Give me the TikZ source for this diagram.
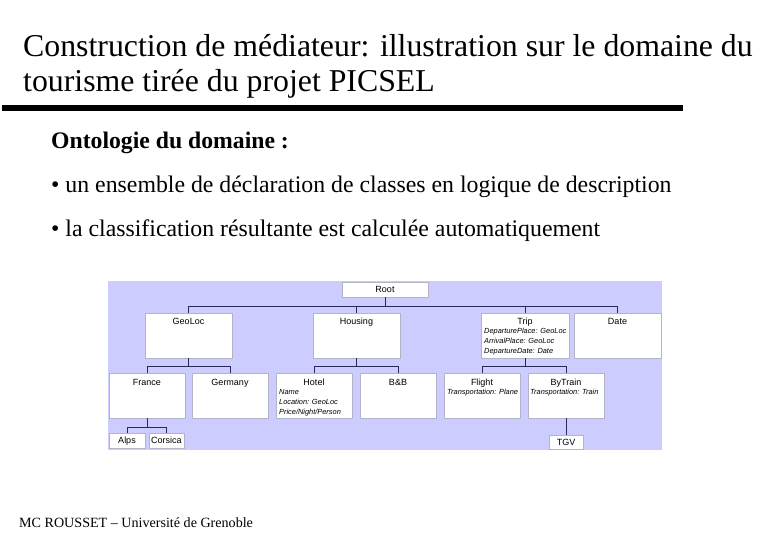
\documentclass[tikz,border=0pt]{standalone}
\usepackage{fontspec}
\setmainfont{Liberation Serif}
\newfontfamily\diafont{Liberation Sans}
\definecolor{panelbg}{RGB}{204,204,255}
\definecolor{linkc}{RGB}{40,40,90}
\definecolor{boxline}{RGB}{180,180,200}
\begin{document}
\begin{tikzpicture}[x=1pt,y=-1pt,
  cls/.style={draw=boxline,line width=0.4pt,fill=white,inner sep=0pt,rectangle},
  big/.style={cls,minimum width=87pt,minimum height=45pt},
  mid/.style={cls,minimum width=76pt,minimum height=45pt},
  small/.style={cls,minimum height=15pt},
  lbl/.style={anchor=base,inner sep=0pt,font=\diafont\fontsize{9}{10}\selectfont},
  attr/.style={anchor=base west,inner sep=0pt,font=\diafont\itshape\fontsize{7.4}{9}\selectfont},
  link/.style={draw=linkc,line width=0.9pt},
  titlet/.style={anchor=base west,inner sep=0pt,font=\fontsize{31.8}{36}\selectfont},
  bodyt/.style={anchor=base west,inner sep=0pt,font=\fontsize{23.8}{28}\selectfont}]
\useasboundingbox (0,0) rectangle (780,540);
% titles
\node[titlet] (t1) at (23,57) {Construction de médiateur: illustration sur le domaine du};
\node[titlet] (t2) at (23,92) {tourisme tirée du projet PICSEL};
\coordinate (barL) at (2,108);
\coordinate (barR) at (683,108);
\draw[line width=5.5pt] (barL) -- (barR);
\node[bodyt,font=\bfseries\fontsize{23.7}{28}\selectfont] (ont) at (51,149) {Ontologie du domaine :};
\node[bodyt] (b1) at (51,193) {• un ensemble de déclaration de classes en logique de description};
\node[bodyt] (b2) at (51,237) {• la classification résultante est calculée automatiquement};
\node[anchor=base west,inner sep=0pt,font=\fontsize{14.1}{16}\selectfont] (foot) at (19,527) {MC ROUSSET – Université de Grenoble};
% panel
\fill[panelbg] (108,281) rectangle (662,450);
% boxes
\node[small,minimum width=86pt] (root) at (385,289.5) {};
\node[big] (geoloc) at (188.5,335.5) {};
\node[big] (housing) at (356.5,335.5) {};
\node[big,minimum width=88pt] (trip) at (525,335.5) {};
\node[big] (date) at (617.5,335.5) {};
\node[mid] (france) at (147,395.5) {};
\node[mid] (germany) at (230,395.5) {};
\node[mid] (hotel) at (314,395.5) {};
\node[mid] (bnb) at (398,395.5) {};
\node[mid] (flight) at (482,395.5) {};
\node[mid] (bytrain) at (566,395.5) {};
\node[small,minimum width=36pt] (alps) at (127,440.5) {};
\node[small,minimum width=35pt] (corsica) at (166.5,440.5) {};
\node[small,minimum width=34pt,minimum height=14pt] (tgv) at (566,442) {};
% labels
\node[lbl] (lroot) at (385,292.8) {Root};
\node[lbl] (lgeo) at (188.5,324.2) {GeoLoc};
\node[lbl] (lhou) at (356.5,324.2) {Housing};
\node[lbl] (ltrip) at (525,324.2) {Trip};
\node[lbl] (ldate) at (617.5,324.2) {Date};
\node[lbl] (lfra) at (147,385.2) {France};
\node[lbl] (lger) at (230,385.2) {Germany};
\node[lbl] (lhot) at (314,385.2) {Hotel};
\node[lbl] (lbnb) at (398,385.2) {B\&B};
\node[lbl] (lfli) at (482,385.2) {Flight};
\node[lbl] (lbyt) at (566,385.2) {ByTrain};
\node[lbl] (lalps) at (127,443.8) {Alps};
\node[lbl] (lcor) at (166.5,443.8) {Corsica};
\node[lbl] (ltgv) at (566,445.2) {TGV};
% attributes
\node[attr] (ta1) at (484,333.7) {DeparturePlace: GeoLoc};
\node[attr] (ta2) at (484,343.5) {ArrivalPlace: GeoLoc};
\node[attr] (ta3) at (484,353.3) {DepartureDate: Date};
\node[attr] (ha1) at (279,394.7) {Name};
\node[attr] (ha2) at (279,404.5) {Location: GeoLoc};
\node[attr] (ha3) at (279,414.3) {Price/Night/Person};
\node[attr] (fa1) at (447,394.7) {Transportation: Plane};
\node[attr] (ba1) at (530,394.7) {Transportation: Train};
% connectors
\coordinate (bus1) at (0,306);
\coordinate (bus2) at (0,366);
\coordinate (bus3) at (0,427);
\draw[link] (root.south) -- (root.south |- bus1);
\draw[link] (geoloc.north) |- (date.north |- bus1) -- (date.north);
\draw[link] (housing.north) -- (housing.north |- bus1);
\draw[link] (trip.north) -- (trip.north |- bus1);
\draw[link] (geoloc.south) -- (geoloc.south |- bus2);
\draw[link] (france.north) |- (germany.north |- bus2) -- (germany.north);
\draw[link] (housing.south) -- (housing.south |- bus2);
\draw[link] (hotel.north) |- (bnb.north |- bus2) -- (bnb.north);
\draw[link] (trip.south) -- (trip.south |- bus2);
\draw[link] (flight.north) |- (bytrain.north |- bus2) -- (bytrain.north);
\draw[link] (france.south) -- (france.south |- bus3);
\draw[link] (alps.north) |- (corsica.north |- bus3) -- (corsica.north);
\draw[link] (bytrain.south) -- (tgv.north);
\end{tikzpicture}
\end{document}
